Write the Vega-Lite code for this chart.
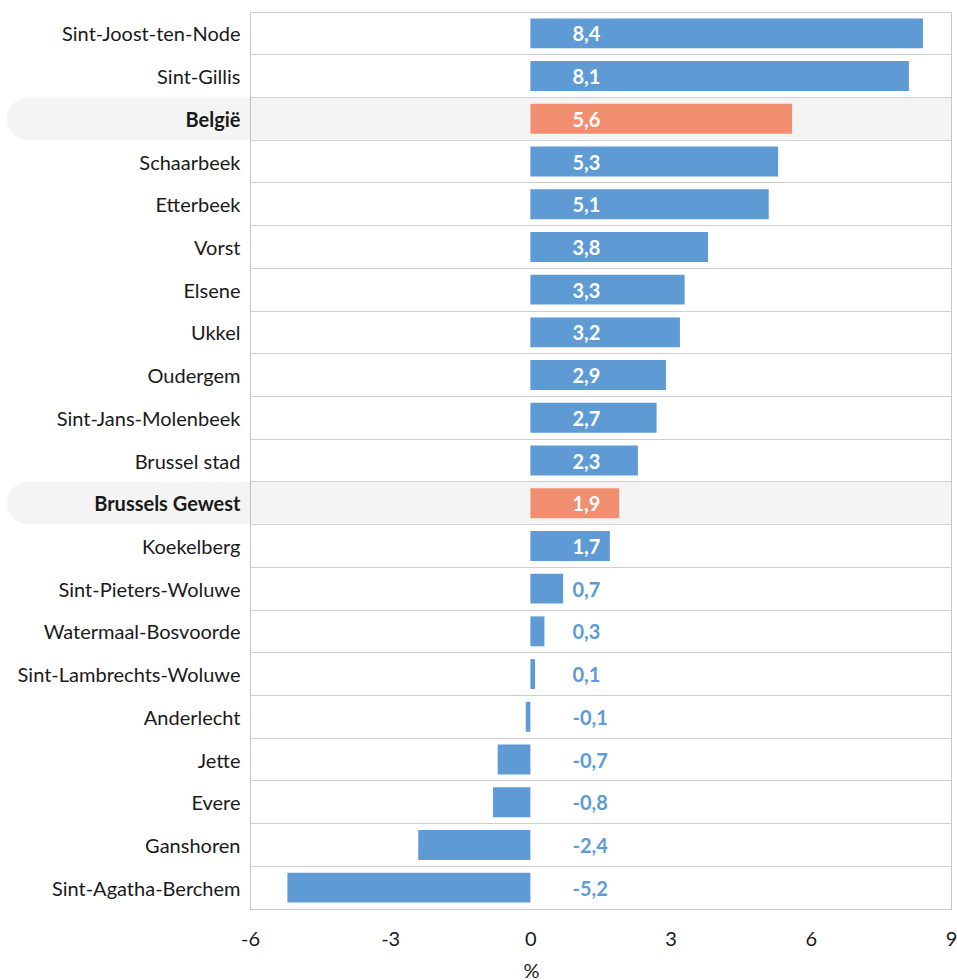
{
  "$schema": "https://vega.github.io/schema/vega-lite/v6.json",
  "width": 701,
  "height": 897,
  "padding": {"left": 5, "top": 12, "right": 6, "bottom": 0},
  "background": "white",
  "config": {
    "view": {"stroke": "#c8c8c8", "strokeWidth": 1},
    "font": "Lato",
    "locale": {
      "number": {"decimal": ",", "thousands": ".", "grouping": [3], "currency": ["€", ""], "minus": "-"}
    }
  },
  "data": {
    "values": [
      {"name": "Sint-Joost-ten-Node", "value": 8.4, "group": "gemeente"},
      {"name": "Sint-Gillis", "value": 8.1, "group": "gemeente"},
      {"name": "België", "value": 5.6, "group": "totaal"},
      {"name": "Schaarbeek", "value": 5.3, "group": "gemeente"},
      {"name": "Etterbeek", "value": 5.1, "group": "gemeente"},
      {"name": "Vorst", "value": 3.8, "group": "gemeente"},
      {"name": "Elsene", "value": 3.3, "group": "gemeente"},
      {"name": "Ukkel", "value": 3.2, "group": "gemeente"},
      {"name": "Oudergem", "value": 2.9, "group": "gemeente"},
      {"name": "Sint-Jans-Molenbeek", "value": 2.7, "group": "gemeente"},
      {"name": "Brussel stad", "value": 2.3, "group": "gemeente"},
      {"name": "Brussels Gewest", "value": 1.9, "group": "totaal"},
      {"name": "Koekelberg", "value": 1.7, "group": "gemeente"},
      {"name": "Sint-Pieters-Woluwe", "value": 0.7, "group": "gemeente"},
      {"name": "Watermaal-Bosvoorde", "value": 0.3, "group": "gemeente"},
      {"name": "Sint-Lambrechts-Woluwe", "value": 0.1, "group": "gemeente"},
      {"name": "Anderlecht", "value": -0.1, "group": "gemeente"},
      {"name": "Jette", "value": -0.7, "group": "gemeente"},
      {"name": "Evere", "value": -0.8, "group": "gemeente"},
      {"name": "Ganshoren", "value": -2.4, "group": "gemeente"},
      {"name": "Sint-Agatha-Berchem", "value": -5.2, "group": "gemeente"}
    ]
  },
  "encoding": {
    "y": {
      "field": "name",
      "type": "nominal",
      "sort": ["Sint-Joost-ten-Node", "Sint-Gillis", "België", "Schaarbeek", "Etterbeek", "Vorst", "Elsene", "Ukkel", "Oudergem", "Sint-Jans-Molenbeek", "Brussel stad", "Brussels Gewest", "Koekelberg", "Sint-Pieters-Woluwe", "Watermaal-Bosvoorde", "Sint-Lambrechts-Woluwe", "Anderlecht", "Jette", "Evere", "Ganshoren", "Sint-Agatha-Berchem"],
      "scale": {"paddingInner": 0, "paddingOuter": 0},
      "axis": {
        "title": null,
        "ticks": false,
        "domain": false,
        "labelFontSize": 20,
        "labelColor": "#1a1a1a",
        "labelPadding": 10,
        "labelLimit": 300,
        "labelOffset": 2,
        "labelFontWeight": {"condition": {"test": "datum.value === 'België' || datum.value === 'Brussels Gewest'", "value": "bold"}, "value": "normal"},
        "grid": true,
        "gridColor": "#cfcfcf",
        "bandPosition": 0,
        "minExtent": 245,
        "maxExtent": 245,
        "zindex": 1
      }
    }
  },
  "layer": [
    {
      "transform": [{"filter": "datum.group === 'totaal'"}],
      "mark": {"type": "bar", "clip": false, "color": "#000000", "opacity": 0.045, "cornerRadiusTopLeft": 21, "cornerRadiusBottomLeft": 21},
      "encoding": {
        "x": {"datum": -11.2, "type": "quantitative", "scale": {"domain": [-6, 9], "nice": false}},
        "x2": {"datum": 9}
      }
    },
    {
      "mark": {"type": "bar", "height": {"band": 0.7}},
      "encoding": {
        "x": {
          "field": "value",
          "type": "quantitative",
          "scale": {"domain": [-6, 9], "nice": false},
          "axis": {
            "values": [-6, -3, 0, 3, 6, 9],
            "format": "d",
            "title": "%",
            "titleFontSize": 20,
            "titleFontWeight": "normal",
            "titleColor": "#1a1a1a",
            "titlePadding": 12,
            "titleX": 281,
            "titleAnchor": "middle",
            "labelFontSize": 20,
            "labelColor": "#1a1a1a",
            "labelPadding": 20,
            "ticks": false,
            "domainColor": "#c8c8c8",
            "gridColor": "#d6d6d6",
            "labelFlush": false,
            "zindex": 0
          }
        },
        "x2": {"datum": 0},
        "color": {
          "field": "group",
          "type": "nominal",
          "scale": {"domain": ["gemeente", "totaal"], "range": ["#5e9bd5", "#f28e70"]},
          "legend": null
        }
      }
    },
    {
      "mark": {"type": "rule", "color": "#222222", "strokeWidth": 1},
      "encoding": {"x": {"datum": 0}}
    },
    {
      "mark": {"type": "text", "align": "left", "baseline": "middle", "fontSize": 20, "fontWeight": "bold", "dy": 2},
      "encoding": {
        "x": {"datum": 0.9},
        "text": {"field": "value", "type": "quantitative", "format": ",.1f"},
        "color": {"condition": {"test": "datum.value >= 1", "value": "#ffffff"}, "value": "#5e9bd5"}
      }
    }
  ]
}
